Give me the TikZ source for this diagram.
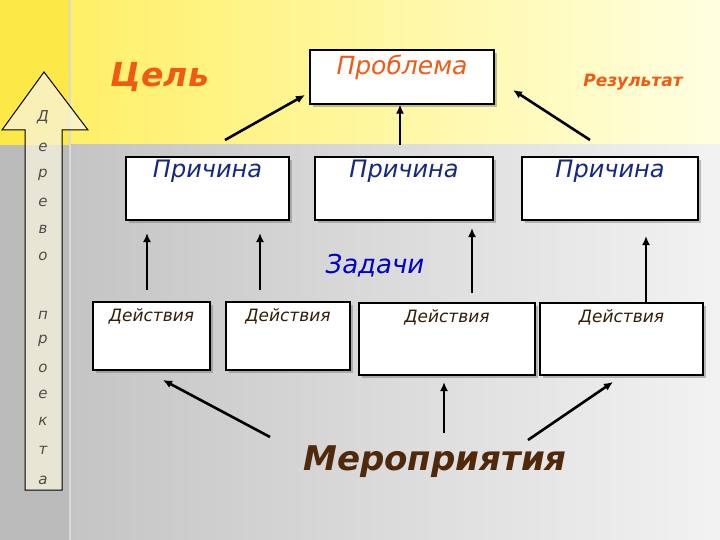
\documentclass[tikz,border=0pt]{standalone}
\usepackage{fontspec}
\setmainfont{DejaVu Sans}
\usetikzlibrary{shadows,arrows.meta}
\definecolor{orr}{RGB}{240,90,20}
\definecolor{dblue}{RGB}{20,40,130}
\definecolor{brn}{RGB}{80,40,10}
\definecolor{dact}{RGB}{50,30,10}
\definecolor{ylw}{RGB}{255,238,90}
\definecolor{ylp}{RGB}{255,255,225}
\definecolor{ystrip}{RGB}{252,232,70}
\tikzset{
 box/.style={draw=black,line width=1.2pt,fill=white,drop shadow={shadow xshift=3pt,shadow yshift=-3pt,opacity=0.4,fill=black!60}},
 arr/.style={line width=2.6pt,-{Latex[length=9pt,width=8pt]}},
 lt/.style={font=\fontsize{15}{15}\selectfont\itshape,text=black!70}
}
\begin{document}
\begin{tikzpicture}[x=1pt,y=-1pt]
\useasboundingbox (0,0) rectangle (720,540);
\shade[left color=ylw,right color=ylp] (0,0) rectangle (720,145);
\shade[left color=black!25,right color=black!5] (0,145) rectangle (720,540);
\fill[ystrip] (0,0) rectangle (70,145);
\fill[black!27] (0,145) rectangle (70,540);
\draw[white!85!black,line width=1.5pt] (70,0) -- (70,540);
% tree arrow
\draw[fill=ylp!80!yellow!70!brown!30,fill opacity=0.75,line width=1pt] (25,490) -- (25,130) -- (2,130) -- (44,72) -- (88,130) -- (62,130) -- (62,490) -- cycle;
\foreach \c/\y [count=\i] in {Д/117,е/147,р/175,е/202,в/229,о/256,п/315,р/341,о/368,е/394,к/421,т/450,а/480}
  \node[lt] (t\i) at (43,\y) {\c};
% boxes
\node[box,minimum width=184pt,minimum height=54pt] (prob) at (402,77) {};
\node[text=orr,font=\fontsize{25}{25}\selectfont\itshape,anchor=north] (probt) at (402,52) {Проблема};
\node[box,minimum width=163pt,minimum height=63pt] (p1) at (207.5,188.5) {};
\node[box,minimum width=178pt,minimum height=63pt] (p2) at (404,188.5) {};
\node[box,minimum width=176pt,minimum height=63pt] (p3) at (610,188.5) {};
\foreach \b in {p1,p2,p3}
  \node[text=dblue,font=\fontsize{24}{24}\selectfont\itshape,anchor=north] at (\b.north) {Причина};
\node[box,minimum width=117pt,minimum height=68pt] (d1) at (151.5,336) {};
\node[box,minimum width=124pt,minimum height=68pt] (d2) at (288,336) {};
\node[box,minimum width=176pt,minimum height=72pt] (d3) at (447,339) {};
\node[box,minimum width=163pt,minimum height=72pt] (d4) at (621.5,339) {};
\foreach \b in {d1,d2,d3,d4}
  \node[text=dact,font=\fontsize{17}{17}\selectfont\itshape,anchor=north,yshift=-4pt] at (\b.north) {Действия};
\node[text=orr,font=\fontsize{33}{33}\selectfont\bfseries\itshape] (goal) at (160,77) {Цель};
\node[text=orr,font=\fontsize{17}{17}\selectfont\bfseries\itshape] (res) at (633,82) {Результат};
\node[text=blue!80!black,font=\fontsize{26}{26}\selectfont\itshape] (tasks) at (375,266) {Задачи};
\node[text=brn,font=\fontsize{34}{34}\selectfont\bfseries\itshape] (mer) at (435,462) {Мероприятия};
% arrows
\coordinate (a1) at (225,140); \coordinate (a2) at (400,145); \coordinate (a3) at (590,140);
\draw[arr] (a1) -- (305,95);
\draw[arr] (a2) -- (a2 |- prob.south);
\draw[arr] (a3) -- (513,90);
\draw[arr] (147,290) -- (147,233);
\draw[arr] (260,290) -- (260,233);
\draw[arr] (472,293) -- (472,228);
\draw[arr] (646,302) -- (646,236);
\draw[arr] (270,437) -- (163,380);
\draw[arr] (444,433) -- (444,382);
\draw[arr] (528,440) -- (613,382);
\end{tikzpicture}
\end{document}
